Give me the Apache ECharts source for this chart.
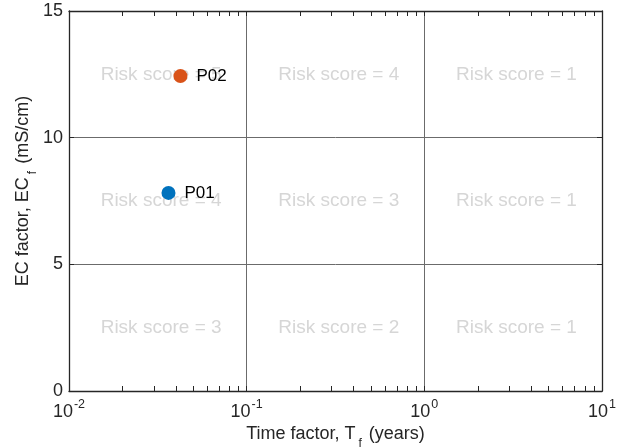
<!DOCTYPE html>
<html>
<head>
<meta charset="utf-8">
<script src="https://cdn.jsdelivr.net/npm/echarts@6/dist/echarts.min.js"></script>
<style>html,body{margin:0;padding:0;background:#fff}#c{width:628px;height:448px}</style>
</head>
<body>
<div id="c"></div>
<script>
// ---- data ----
const pointNames = ['P01', 'P02'];
const timeFactor = [0.0363, 0.0424];
const ecFactor = [7.82, 12.43];
const pointColors = ['#0072BD', '#D95319'];

const riskX = [0.033, 0.33, 3.3];
const riskY = [12.5, 7.5, 2.5];
const riskScores = [[5, 4, 1], [4, 3, 1], [3, 2, 1]];

const xMin = 0.01, xMax = 10;
const yMin = 0, yMax = 15, yStep = 5;
const xTickValues = [0.01,0.02,0.03,0.04,0.05,0.06,0.07,0.08,0.09,
  0.1,0.2,0.3,0.4,0.5,0.6,0.7,0.8,0.9,1,2,3,4,5,6,7,8,9,10];

// ---- chart ----
const chart = echarts.init(document.getElementById('c'), null, {renderer: 'canvas'});
const font = 'Liberation Sans, Arial, Helvetica, sans-serif';
const axisColor = '#262626';
const gridColor = '#6b6b6b';

const riskData = [];
riskY.forEach((y, r) => riskX.forEach((x, c) => {
  riskData.push({value: [x, y], name: 'Risk score = ' + riskScores[r][c]});
}));

function xAxisBase(pos) {
  return {
    type: 'log', logBase: 10, min: xMin, max: xMax, position: pos,
    axisLine: {show: true, onZero: false, lineStyle: {color: axisColor, width: 1.3}},
    axisTick: {show: true, inside: true, length: 5, customValues: xTickValues,
      lineStyle: {color: axisColor, width: 1}},
    splitLine: {show: false},
    axisLabel: {show: false}
  };
}
const nameRich = {
  n: {fontSize: 18, fontFamily: font, color: axisColor, lineHeight: 22},
  sub: {fontSize: 12, fontFamily: font, color: axisColor, lineHeight: 22, verticalAlign: 'bottom', padding: [0, 2, -5, 3]}
};
const xBottom = xAxisBase('bottom');
xBottom.axisLabel = {
  show: true, margin: 7, fontFamily: font,
  formatter: function (v) {
    const e = Math.round(Math.log10(v));
    return '{b|10}{s|' + e + '}';
  },
  rich: {
    b: {fontSize: 18, color: axisColor, fontFamily: font, lineHeight: 23, verticalAlign: 'bottom'},
    s: {fontSize: 12.5, color: axisColor, fontFamily: font, lineHeight: 23, verticalAlign: 'top', padding: [0, 0, 0, 1]}
  }
};
xBottom.name = '{n|Time factor, T}{sub|f}{n| (years)}';
xBottom.nameLocation = 'middle';
xBottom.nameGap = 32;
xBottom.nameMoveOverlap = false;
xBottom.nameTextStyle = {fontFamily: font, color: axisColor, rich: nameRich};
// hidden axis that only draws the decade grid lines
const xGrid = {
  type: 'log', logBase: 10, min: xMin, max: xMax, position: 'bottom',
  axisLine: {show: false}, axisTick: {show: false}, axisLabel: {show: false},
  splitLine: {show: true, lineStyle: {color: gridColor, width: 1}}
};

function yAxisBase(pos) {
  return {
    type: 'value', min: yMin, max: yMax, interval: yStep, position: pos,
    axisLine: {show: true, onZero: false, lineStyle: {color: axisColor, width: 1.3}},
    axisTick: {show: true, inside: true, length: 5, lineStyle: {color: axisColor, width: 1}},
    splitLine: {show: false},
    axisLabel: {show: false}
  };
}
const yLeft = yAxisBase('left');
yLeft.splitLine = {show: true, lineStyle: {color: gridColor, width: 1}};
yLeft.axisLabel = {show: true, margin: 6, fontSize: 18, color: axisColor, fontFamily: font};
yLeft.name = '{n|EC factor, EC}{sub|f}{n| (mS/cm)}';
yLeft.nameLocation = 'middle';
yLeft.nameGap = 35;
yLeft.nameRotate = 90;
yLeft.nameMoveOverlap = false;
yLeft.nameTextStyle = {fontFamily: font, color: axisColor, padding: [0, 0, 0, 20], rich: nameRich};

const option = {
  animation: false,
  backgroundColor: '#fff',
  grid: {left: 69, right: 26, top: 11, bottom: 57, containLabel: false, outerBoundsMode: 'none'},
  xAxis: [xGrid, xBottom, xAxisBase('top')],
  yAxis: [yLeft, yAxisBase('right')],
  series: [
    {
      type: 'scatter', xAxisIndex: 1, yAxisIndex: 0, symbolSize: 0, z: 1,
      data: riskData,
      label: {show: true, position: 'inside', formatter: '{b}', fontSize: 19,
        fontFamily: font, color: '#cccccc'},
      silent: true
    },
    {
      type: 'scatter', xAxisIndex: 1, yAxisIndex: 0, symbol: 'circle', symbolSize: 14, z: 3,
      data: pointNames.map((n, i) => ({
        name: n, value: [timeFactor[i], ecFactor[i]],
        itemStyle: {color: pointColors[i], opacity: 1}
      })),
      label: {show: true, position: 'right', distance: 9, formatter: '{b}', fontSize: 17,
        fontFamily: font, color: '#000'}
    }
  ]
};
chart.setOption(option);
</script>
</body>
</html>
